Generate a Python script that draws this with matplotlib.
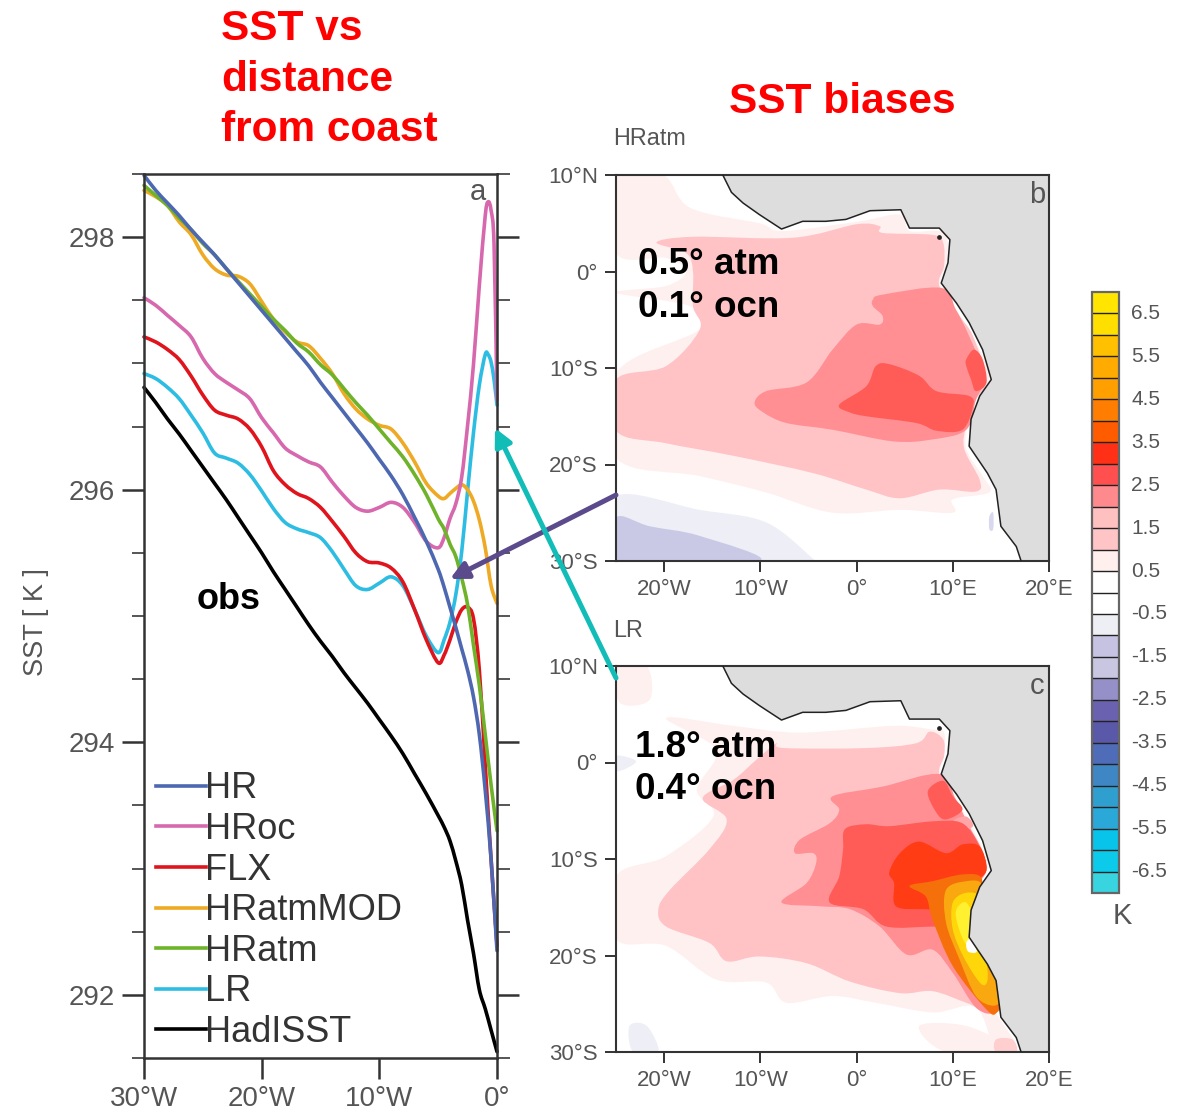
import matplotlib
matplotlib.use("Agg")
import matplotlib.pyplot as plt
from matplotlib.cm import ScalarMappable
from matplotlib.colors import BoundaryNorm, ListedColormap
from matplotlib.lines import Line2D
from matplotlib.patches import FancyArrowPatch, PathPatch
from matplotlib.path import Path
from matplotlib.transforms import ScaledTranslation

plt.rcParams["font.family"] = ["Liberation Sans", "DejaVu Sans"]

W, H = 1190, 1115
GREY = "#555555"

# panel a, longitude grids
lon = list(range(-30, -4)) + [-4.5, -4, -3.5, -3, -2.5, -2, -1.5, -1, -0.5, 0]
lon_peak = list(range(-30, -4)) + [-4.5, -4, -3.5, -3, -2.5, -2, -1.5, -1, -0.75, -0.5, -0.25, 0]

hr = [298.49, 298.37, 298.27, 298.17, 298.06, 297.96, 297.86, 297.75, 297.64, 297.53,
      297.42, 297.31, 297.20, 297.09, 296.98, 296.85, 296.73, 296.61, 296.49, 296.37,
      296.24, 296.11, 295.96, 295.78, 295.59, 295.37, 295.23, 295.07, 294.91, 294.74,
      294.57, 294.36, 294.06, 293.62, 293.07, 292.35]
hratm = [298.41, 298.33, 298.25, 298.15, 298.06, 297.95, 297.86, 297.75, 297.65, 297.55,
         297.45, 297.35, 297.26, 297.16, 297.09, 296.99, 296.91, 296.80, 296.69, 296.59,
         296.48, 296.37, 296.26, 296.12, 295.96, 295.77, 295.69, 295.57, 295.47, 295.30,
         295.09, 294.77, 294.45, 294.06, 293.66, 293.30]
hratmmod = [298.37, 298.32, 298.25, 298.12, 298.02, 297.86, 297.75, 297.70, 297.69, 297.63,
            297.49, 297.35, 297.25, 297.17, 297.14, 297.04, 296.92, 296.76, 296.64, 296.56,
            296.51, 296.48, 296.37, 296.22, 296.05, 295.95, 295.93, 295.97, 296.01, 296.04,
            296.00, 295.91, 295.76, 295.54, 295.24, 295.10]
flx = [297.21, 297.17, 297.11, 297.03, 296.90, 296.75, 296.63, 296.59, 296.56, 296.48,
       296.34, 296.15, 296.04, 295.97, 295.93, 295.86, 295.75, 295.63, 295.50, 295.43,
       295.42, 295.38, 295.27, 295.05, 294.81, 294.63, 294.69, 294.81, 294.95, 295.05,
       295.07, 294.98, 294.57, 293.82, 293.07, 292.39]
hadisst = [296.81, 296.69, 296.56, 296.44, 296.31, 296.18, 296.05, 295.92, 295.78, 295.64,
           295.50, 295.35, 295.21, 295.07, 294.93, 294.80, 294.68, 294.55, 294.43, 294.31,
           294.18, 294.05, 293.91, 293.75, 293.59, 293.42, 293.33, 293.22, 293.06, 292.87,
           292.59, 292.33, 292.04, 291.89, 291.72, 291.55]
hroc = [297.52, 297.46, 297.38, 297.30, 297.21, 297.04, 296.92, 296.85, 296.79, 296.72,
        296.57, 296.45, 296.33, 296.27, 296.22, 296.18, 296.06, 295.95, 295.86, 295.83,
        295.86, 295.90, 295.86, 295.74, 295.59, 295.54, 295.62, 295.77, 295.89, 296.10,
        296.51, 296.99, 297.62, 298.17, 298.28, 298.21, 297.94, 296.71]
lr = [296.92, 296.88, 296.81, 296.72, 296.59, 296.45, 296.29, 296.25, 296.21, 296.12,
      295.99, 295.85, 295.74, 295.69, 295.66, 295.62, 295.51, 295.37, 295.24, 295.21,
      295.26, 295.31, 295.24, 295.05, 294.84, 294.71, 294.81, 294.95, 295.17, 295.51,
      295.99, 296.45, 296.83, 297.07, 297.07, 297.01, 296.87, 296.67]

legend_names = ["HR", "HRoc", "FLX", "HRatmMOD", "HRatm", "LR", "HadISST"]
legend_colors = ["#4d68b0", "#d768ad", "#e0141c", "#eeaa25", "#6eb32a", "#2dbde2", "#000000"]

# coast, shared by both maps (lon, lat)
coast = [(-13.9, 10), (-13.0, 8.2), (-11.8, 7.1), (-10.1, 5.9), (-7.8, 4.4), (-5.6, 5.2),
         (-3.2, 5.2), (-1.1, 5.4), (1.4, 6.3), (4.6, 6.4), (5.5, 4.5), (8.6, 4.5), (9.7, 3.3),
         (9.5, 0.9), (8.8, -1.2), (10.4, -3.3), (11.7, -5.3), (13.1, -8.1), (14.0, -11.2),
         (12.8, -12.9), (11.9, -15.3), (11.7, -18.1), (13.6, -20.9), (14.5, -22.6),
         (15.0, -26.4), (16.6, -28.5), (17.1, -30)]
land_corners = [(20, -30), (20, 10)]

# panel b contour regions (lon, lat)
b_pale = [(-25, 10), (-20.1, 10), (-17.3, 6.6), (-10.1, 5), (-7.6, 4.2), (0.3, 5.2), (4.5, 5.9),
          (5.5, 4.2), (8.6, 4.2), (9.5, 3), (9.3, 0.6), (8.8, -1.5), (11, -5), (12.8, -8.1),
          (13.8, -11.2), (12.4, -13.3), (11.6, -15.7), (11.4, -18.4), (13.1, -21.2), (13.8, -22.9),
          (10, -23.6), (10, -25), (4.5, -24.7), (-2.5, -25), (-9.4, -22.9), (-16.3, -21.2),
          (-25, -19.3), (-25, -10.5), (-16.3, -6), (-17.3, -3.6), (-25, -2.2), (-19.8, -1.5),
          (-17.7, 0), (-19.8, 1.4), (-25, 1.9)]
b_pink = [(-20.8, 3), (-17, 3.6), (-6.6, 3.5), (0, 4.9), (2.4, 4.7), (2.7, 4), (7.9, 3.8), (9, 3),
          (9.1, 0.6), (8.6, -1.5), (10.7, -4.6), (12.1, -6.7), (13.5, -11.2), (12.4, -13.3),
          (11.4, -16), (11.2, -18.4), (12.8, -21.6), (12.4, -22.8), (8.6, -22.6), (4.5, -23.5),
          (1, -22.6), (-4.5, -20.9), (-12.8, -19.1), (-19.8, -17.8), (-25, -16.5), (-25, -11.2),
          (-19.8, -9.8), (-16.3, -6), (-17, -3.6), (-17, 0), (-17.7, 1.9)]
b_rose = [(1.7, -2.9), (2.7, -2.4), (8.8, -1.7), (10.3, -3.9), (11.7, -6.7), (13.3, -10.8),
          (12.4, -13.3), (11.4, -16.4), (7.9, -17.4), (3.8, -17.6), (-2.5, -16.4), (-7.3, -15.7),
          (-9.7, -14.6), (-10.6, -13.6), (-9.4, -12.4), (-5.2, -11.5), (-2.5, -8.1), (0, -5.5),
          (2.4, -5.5), (2.7, -4.6), (1.7, -3.6)]
b_red = [(-1.8, -13.8), (1, -11.9), (2, -9.8), (3.4, -9.6), (6.5, -10.8), (8.3, -12.4), (11.7, -12.9),
         (12.1, -14), (11, -16.4), (8.3, -16.5), (6.2, -15.7), (1, -15), (-0.7, -14.6)]
b_red_coast = [(11.4, -9.1), (12.2, -8.1), (13.1, -9.1), (13.5, -11.5), (12.4, -12.4), (11.9, -11.2), (11.4, -9.8)]
b_lav = [(-25, -23.3), (-16.3, -24.7), (-9.4, -26), (-4.5, -29.8), (-4.5, -30), (-25, -30)]
b_lav_dark = [(-25, -25.5), (-21.5, -26.4), (-16.3, -27.4), (-10.1, -30), (-25, -30)]
b_lav_coast = [(13.8, -25.4), (14.2, -25), (14.2, -26.7), (13.8, -26.7)]

# panel c contour regions (lon, lat)
c_pale_corner = [(-25, 10), (-21.8, 10), (-21.5, 6.5), (-24.6, 6.2)]
c_pale = [(-19.8, 4.6), (-12.8, 3.8), (-5.9, 3.1), (3.8, 3.8), (7.9, 3.4), (9.1, 3.1), (9.1, 0.7),
          (8.8, -1.4), (11, -4.9), (13.1, -9), (13.6, -11.1), (12.4, -13.2), (11.6, -16.9),
          (11.6, -19.4), (13.8, -22.8), (14.5, -25.9), (16.6, -29.4), (14.5, -30), (12.4, -25.4),
          (7.9, -25.9), (2, -24.9), (-2.5, -24.2), (-7.3, -24.9), (-9.4, -22.8), (-14.6, -22.5),
          (-19.8, -19), (-25, -18.3), (-25, -11.8), (-19.8, -9.7), (-14.9, -5.6), (-16.6, -2.8),
          (-14.6, 1.3)]
c_pink = [(-10.4, 0.3), (-8.3, 2), (-7.6, 1.5), (1, 1.5), (6.2, 2), (7.6, 3.2), (9, 2.4), (9.1, 0.7),
          (8.6, -1.2), (10.3, -3.8), (11.7, -6.6), (13, -9), (13.5, -11.1), (12.4, -13.2), (11.6, -16.9),
          (11.7, -19.4), (13.8, -22.8), (14.3, -25.9), (11.4, -24.9), (7.9, -23.7), (4.5, -23.9),
          (-0.7, -22.7), (-5.2, -20.8), (-10.1, -20.1), (-13.5, -20.6), (-15.3, -18.7), (-19.8, -17),
          (-20.6, -15.2), (-19.4, -13.2), (-15.3, -9), (-13.5, -5.9), (-16, -3.7), (-12.8, -1.8)]
c_rose = [(-2.5, -3.5), (2.7, -2.5), (8.6, -1.2), (10.3, -3.8), (11.7, -6.6), (13, -9), (13.5, -11.1),
          (12.4, -13.2), (11.6, -16.9), (11.7, -19.4), (13.8, -22.8), (14.3, -25.8), (12.4, -25.4),
          (10, -21.8), (7.9, -19.4), (5.2, -19.9), (2.4, -17), (-0.7, -15.2), (-3.8, -14.9),
          (-7.8, -14.5), (-5.2, -12.5), (-4.2, -10.4), (-4.5, -9.4), (-6.4, -9.4), (-5.9, -8),
          (-2.8, -6.3), (-1.8, -4.9)]
c_rose_spot = [(10, -6.1), (11.4, -5.6), (12.1, -6.6), (10.7, -7.1)]
c_red = [(-1.2, -6.9), (1, -6.4), (3.4, -6.6), (7.9, -6.1), (11, -6.3), (12.8, -8.7), (13.5, -11.1),
         (12.4, -12.8), (10.7, -17), (7.9, -17), (3.1, -17), (0.7, -15.2), (-2.8, -14.5), (-1.8, -11.8),
         (-1.4, -9)]
c_red_coast = [(7.4, -3), (9, -1.9), (10, -3.5), (11, -4.9), (9.3, -5.9), (8.3, -5.2)]
c_orange_red = [(3.4, -11.4), (4.5, -9.4), (6.5, -8.2), (9.3, -9.4), (11, -8.5), (12.8, -8.7), (13.5, -11.1),
                (12.4, -12.5), (11.4, -15.2), (7.2, -15.2), (4.1, -14.9), (3.9, -12.5)]
c_orange = [(5.5, -12.8), (7.9, -12.3), (11, -11.6), (13, -12), (12.6, -15), (12.4, -18.7),
            (14.2, -20.4), (15.4, -24), (14.6, -25.9), (13.5, -25.6), (10, -21.1), (7.9, -16.3), (7.2, -13.9)]
c_amber = [(9.3, -13.2), (11.4, -12.3), (13, -12.6), (12.6, -15.2), (12.4, -19), (14.2, -20.8),
           (15.2, -24), (14.3, -25.2), (12.4, -24.2), (10.7, -20.4), (9.3, -16.6)]
c_yellow = [(10, -14.5), (11.4, -13.5), (12.8, -14), (12.4, -16.9), (12.2, -18.7), (13.4, -20.4),
            (13.6, -22.6), (12.9, -22.9), (11.2, -20.3), (10, -17.3)]
c_bright = [(10.3, -15.6), (11.4, -14.5), (12.4, -16.9), (12.2, -18.7), (11.2, -18.6)]
c_white = [(11.4, -18.7), (11.9, -18.3), (12.5, -19.6), (11.6, -19.6)]
c_lav_left = [(-25, 0.7), (-22.9, 0.1), (-24.9, -0.9)]
c_lav_low = [(-23.6, -27.3), (-21.8, -27.3), (-20.6, -30), (-23.2, -30)]
c_pale_low = [(6.5, -27.3), (11.4, -27.3), (16.6, -29.7), (16.2, -30), (9.3, -30)]
c_pink_low = [(14.5, -28.7), (16.2, -28.7), (16.6, -30), (14.5, -30)]

# colour bar
cbar_levels = [-7 + 0.5 * i for i in range(29)]
cbar_colors = ["#38d4e0", "#0ccbea", "#08c4ea", "#2aa8d8", "#2f9fd0", "#3f86c4", "#4f6cb8", "#5a58a8",
               "#6a62b0", "#9590c8", "#c8c6e0", "#c5c2e2", "#eeeef5", "#ffffff", "#ffffff", "#fff0ee",
               "#ffc4c6", "#ffc0c0", "#ff8a8e", "#ff4f4f", "#ff3015", "#ff5c00", "#ff7d00", "#ff9f00",
               "#ffab00", "#ffc000", "#ffdf00", "#ffe500"]
cbar_ticks = [-6.5, -5.5, -4.5, -3.5, -2.5, -1.5, -0.5, 0.5, 1.5, 2.5, 3.5, 4.5, 5.5, 6.5]
cbar_labels = ["-6.5", "-5.5", "-4.5", "-3.5", "-2.5", "-1.5", "-0.5", "0.5", "1.5", "2.5", "3.5", "4.5", "5.5", "6.5"]

PALE, PINK, ROSE, RED = "#fff0f0", "#ffc3c6", "#ff8f92", "#ff5b57"
LAV, LAV_DARK = "#eeeef7", "#c9c9e6"

b_regions = [(b_pale, PALE), (b_pink, PINK), (b_rose, ROSE), (b_red, RED), (b_red_coast, RED),
             (b_lav, LAV), (b_lav_dark, LAV_DARK), (b_lav_coast, "#d8d8ef")]
c_regions = [(c_pale_corner, PALE), (c_pale, PALE), (c_pale_low, PALE), (c_pink_low, "#ffcfd0"),
             (c_pink, PINK), (c_rose, ROSE), (c_rose_spot, "#ffa5a8"), (c_red, RED), (c_red_coast, RED),
             (c_orange_red, "#ff3c14"), (c_orange, "#f5700a"), (c_amber, "#f9a80f"), (c_yellow, "#ffd60a"),
             (c_bright, "#fff030"), (c_white, "#ffffff"), (c_lav_left, LAV), (c_lav_low, LAV)]


def place(fig, left, top, right, bottom):
    return fig.add_axes([left / W, 1 - bottom / H, (right - left) / W, (bottom - top) / H])


def smooth(points, closed=False):
    # curve through the read points (Catmull-Rom written as Bezier segments)
    n = len(points)
    verts = [points[0]]
    codes = [Path.MOVETO]
    for i in range(n if closed else n - 1):
        if closed:
            p0, p1, p2, p3 = points[i - 1], points[i], points[(i + 1) % n], points[(i + 2) % n]
        else:
            p0, p1, p2, p3 = points[max(i - 1, 0)], points[i], points[i + 1], points[min(i + 2, n - 1)]
        verts.append((p1[0] + (p2[0] - p0[0]) / 6, p1[1] + (p2[1] - p0[1]) / 6))
        verts.append((p2[0] - (p3[0] - p1[0]) / 6, p2[1] - (p3[1] - p1[1]) / 6))
        verts.append(p2)
        codes += [Path.CURVE4] * 3
    return Path(verts, codes)


def draw_curve(ax, x, y, colour):
    patch = PathPatch(smooth(list(zip(x, y))), fill=False, edgecolor=colour, lw=2.6, clip_on=False,
                      capstyle="round", joinstyle="round")
    ax.add_patch(patch)


def draw_map(ax, regions, tag, note1, note2, note_x, note_y1, note_y2):
    for poly, colour in regions:
        ax.add_patch(PathPatch(smooth(poly, closed=True), facecolor=colour, edgecolor="none", lw=0, zorder=1))
    land = coast + land_corners
    ax.fill([p[0] for p in land], [p[1] for p in land], color="#dddddd", lw=0, zorder=2)
    ax.plot([p[0] for p in coast], [p[1] for p in coast], color="#222222", lw=1.1, zorder=3)
    ax.plot([8.6], [3.6], "o", color="#222222", ms=2.4, zorder=3)
    ax.set_xlim(-25, 20)
    ax.set_ylim(-30, 10)
    ax.set_xticks([-20, -10, 0, 10, 20], ["20°W", "10°W", "0°", "10°E", "20°E"])
    ax.set_yticks([-30, -20, -10, 0, 10], ["30°S", "20°S", "10°S", "0°", "10°N"])
    ax.tick_params(length=8, width=1.4, color="#333333", labelcolor=GREY, labelsize=16, pad=5)
    for s in ax.spines.values():
        s.set_linewidth(1.5)
        s.set_color("#333333")
    ax.text(0.972, 0.948, tag, transform=ax.transAxes, ha="center", va="center", fontsize=21, color=GREY)
    ax.text(note_x, note_y1, note1, fontsize=26.5, fontweight="bold", va="center", zorder=5)
    ax.text(note_x, note_y2, note2, fontsize=26.5, fontweight="bold", va="center", zorder=5)


fig = plt.figure(figsize=(W / 100, H / 100), dpi=100)

# panel a
ax = place(fig, 144, 174, 497, 1058)
draw_curve(ax, lon, hadisst, legend_colors[6])
draw_curve(ax, lon_peak, lr, legend_colors[5])
draw_curve(ax, lon, hratmmod, legend_colors[3])
draw_curve(ax, lon_peak, hroc, legend_colors[1])
draw_curve(ax, lon, flx, legend_colors[2])
draw_curve(ax, lon, hratm, legend_colors[4])
draw_curve(ax, lon, hr, legend_colors[0])
ax.set_xlim(-30, 0)
ax.set_ylim(291.5, 298.5)
ax.set_xticks([-30, -20, -10, 0], ["30°W", "20°W", "10°W", "0°"])
ax.set_yticks([292, 294, 296, 298], ["292", "294", "296", "298"])
ax.set_yticks([291.5, 292.5, 293, 293.5, 294.5, 295, 295.5, 296.5, 297, 297.5, 298.5], minor=True)
ax.tick_params(axis="x", length=15, width=1.8, color="#333333", labelcolor=GREY, labelsize=20, pad=5)
ax.tick_params(axis="y", which="major", length=16, width=1.8, color="#333333", labelcolor=GREY, labelsize=20,
               pad=5, right=True)
ax.tick_params(axis="y", which="minor", length=9, width=1.4, color="#555555", right=True)
for s in ax.spines.values():
    s.set_linewidth(1.8)
    s.set_color("#333333")
fig.text(36 / W, 1 - 622 / H, "SST [ K ]", fontsize=19.5, color=GREY, rotation=90, ha="center", va="center")
ax.text(0.97, 0.98, "a", transform=ax.transAxes, ha="right", va="center", fontsize=21, color=GREY)
ax.text(-25.5, 295.13, "obs", fontsize=26, fontweight="bold", va="center")

handles = [Line2D([], [], color=c, lw=2.6) for c in legend_colors]
ax.legend(handles, legend_names, loc="lower left", bbox_to_anchor=(0.034, 0.009), frameon=False, fontsize=26,
          labelcolor="#333333", labelspacing=0.156, handlelength=1.39, handletextpad=-0.03, borderpad=0,
          borderaxespad=0)

# panels b, c
ax_b = place(fig, 616, 175, 1049, 561)
draw_map(ax_b, b_regions, "b", "0.5° atm", "0.1° ocn", -22.7, 0.7, -3.7)
ax_c = place(fig, 616, 666, 1049, 1052)
draw_map(ax_c, c_regions, "c", "1.8° atm", "0.4° ocn", -23.0, 1.6, -2.8)
fig.text(613 / W, 1 - 138.5 / H, "HRatm", fontsize=16.8, color=GREY, va="center")
fig.text(613 / W, 1 - 630.5 / H, "LR", fontsize=16.8, color=GREY, va="center")

# colour bar
cax = place(fig, 1092, 292, 1119, 893)
norm = BoundaryNorm(cbar_levels, len(cbar_colors))
cb = fig.colorbar(ScalarMappable(norm=norm, cmap=ListedColormap(cbar_colors)), cax=cax, ticks=cbar_ticks,
                  drawedges=True, spacing="uniform")
cb.minorticks_off()
cb.set_ticklabels(cbar_labels)
cb.ax.tick_params(length=0, labelsize=15, labelcolor=GREY, pad=9)
for label in cb.ax.get_yticklabels():
    label.set_transform(label.get_transform() + ScaledTranslation(0, 2 / 100, fig.dpi_scale_trans))
cb.dividers.set_color("#222222")
cb.dividers.set_linewidth(1.0)
cb.outline.set_edgecolor("#666666")
cb.outline.set_linewidth(1.6)
fig.text(1122 / W, 1 - 916 / H, "K", fontsize=21, color=GREY, ha="center", va="center")

# red headings
for text, x, y in [("SST vs", 221, 29), ("distance", 221, 80), ("from coast", 221, 130), ("SST biases", 729, 102)]:
    fig.text(x / W, 1 - y / H, text, fontsize=30.5, fontweight="bold", color="#ff0000", va="center")

# arrows across panels
for start, end, colour in [((616, 495), (450, 579), "#5b4a8c"), ((616, 678), (495, 428), "#12bdb8")]:
    arrow = FancyArrowPatch((start[0] / W, 1 - start[1] / H), (end[0] / W, 1 - end[1] / H),
                            transform=fig.transFigure, arrowstyle="-|>", mutation_scale=26, lw=3.6,
                            color=colour, shrinkA=0, shrinkB=0, zorder=20)
    fig.add_artist(arrow)

fig.savefig("out.png", dpi=100)
